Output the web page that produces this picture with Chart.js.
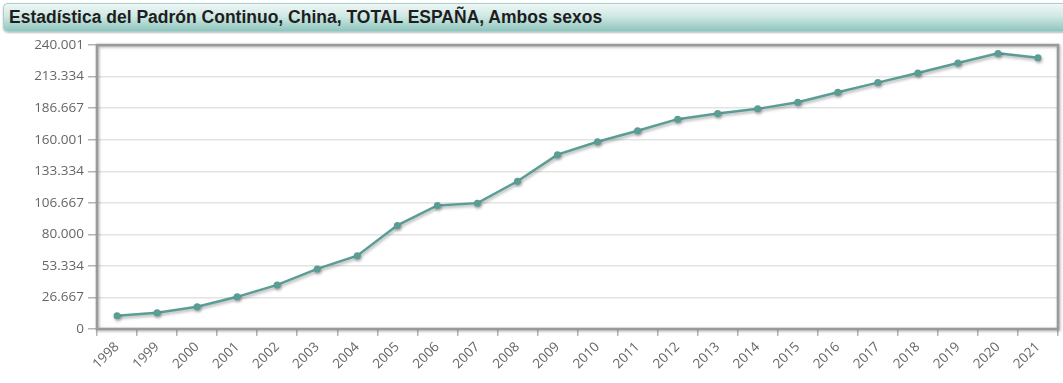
<!DOCTYPE html>
<html>
<head>
<meta charset="utf-8">
<script src="https://cdn.jsdelivr.net/npm/chart.js@4/dist/chart.umd.min.js"></script>
<style>
  html, body { margin: 0; padding: 0; background: #fff; width: 1063px; height: 383px; overflow: hidden; }
  #title {
    position: absolute; left: 3px; top: 3px; width: 1062px; height: 29px;
    box-sizing: border-box;
    border: 1px solid #a9cfca; border-right: none;
    border-radius: 5px 0 0 5px;
    background: linear-gradient(to bottom, #eef7f6 0%, #cfe8e4 45%, #8fc6be 100%);
    box-shadow: 0 1px 2px rgba(0,0,0,0.25);
    font-family: "Liberation Sans", Arial, sans-serif; font-weight: bold; font-size: 17.5px;
    color: #1e1e1e; line-height: 27px; padding-left: 5px; white-space: nowrap;
  }
  #wrap { position: absolute; left: 0; top: 33px; width: 1063px; height: 350px; }
</style>
</head>
<body>
<div id="title">Estadística del Padrón Continuo, China, TOTAL ESPAÑA, Ambos sexos</div>
<div id="wrap"><canvas id="c" width="1063" height="350"></canvas></div>
<script>
const years = ['1998','1999','2000','2001','2002','2003','2004','2005','2006','2007','2008','2009',
               '2010','2011','2012','2013','2014','2015','2016','2017','2018','2019','2020','2021'];
const population = [11200, 13700, 18800, 27200, 37300, 50800, 62000, 87600, 104400, 106400, 124900, 147400,
                    158300, 167600, 177400, 182200, 186100, 191700, 200200, 208300, 216400, 224800, 233000, 229300];
const yMax = 240001;
const yTickLabels = ['0','26.667','53.334','80.000','106.667','133.334','160.001','186.667','213.334','240.001'];

const frame = {
  id: 'frame',
  beforeDatasetsDraw(chart) {
    const {ctx, chartArea: a} = chart;
    ctx.save();
    ctx.shadowColor = 'rgba(0,0,0,0.35)';
    ctx.shadowBlur = 3;
    ctx.shadowOffsetX = 1;
    ctx.shadowOffsetY = 1;
    ctx.strokeStyle = '#9a9a9a';
    ctx.lineWidth = 2.5;
    ctx.strokeRect(a.left, a.top, a.right - a.left, a.bottom - a.top);
    ctx.restore();
  },
  beforeDatasetDraw(chart) {
    const ctx = chart.ctx;
    ctx.save();
    ctx.shadowColor = 'rgba(0,0,0,0.3)';
    ctx.shadowBlur = 3;
    ctx.shadowOffsetX = 1;
    ctx.shadowOffsetY = 2;
  },
  afterDatasetDraw(chart) {
    chart.ctx.restore();
  }
};

new Chart(document.getElementById('c'), {
  type: 'line',
  data: {
    labels: years,
    datasets: [{
      data: population,
      borderColor: '#5a9d95',
      backgroundColor: '#5a9d95',
      borderWidth: 2.5,
      pointRadius: 3.5,
      pointBorderWidth: 0,
      tension: 0,
      fill: false
    }]
  },
  options: {
    responsive: false,
    animation: false,
    layout: { padding: { top: 11, right: 5, left: 0, bottom: 0 } },
    plugins: { legend: { display: false }, tooltip: { enabled: false } },
    scales: {
      x: {
        offset: true,
        grid: { offset: true, drawOnChartArea: false, drawTicks: true, tickLength: 7, tickColor: '#b5b5b5', lineWidth: 1.5 },
        border: { display: false },
        ticks: {
          autoSkip: false, maxRotation: 45, minRotation: 45, padding: 3,
          color: '#666', font: { family: '"Open Sans", sans-serif', size: 13.5 }
        },
        afterFit(scale) { scale.height = 54; }
      },
      y: {
        min: 0, max: yMax,
        afterBuildTicks(scale) {
          scale.ticks = yTickLabels.map((_, i) => ({ value: yMax * i / 9 }));
        },
        grid: { color: '#e3e3e3', lineWidth: 1.5, drawTicks: true, tickLength: 9, tickColor: '#b5b5b5' },
        border: { display: false },
        ticks: {
          padding: 4,
          color: '#666', font: { family: '"Open Sans", sans-serif', size: 13.5 },
          callback: (v, i) => yTickLabels[i]
        },
        afterFit(scale) { scale.width = 97; }
      }
    }
  },
  plugins: [frame]
});
</script>
</body>
</html>
